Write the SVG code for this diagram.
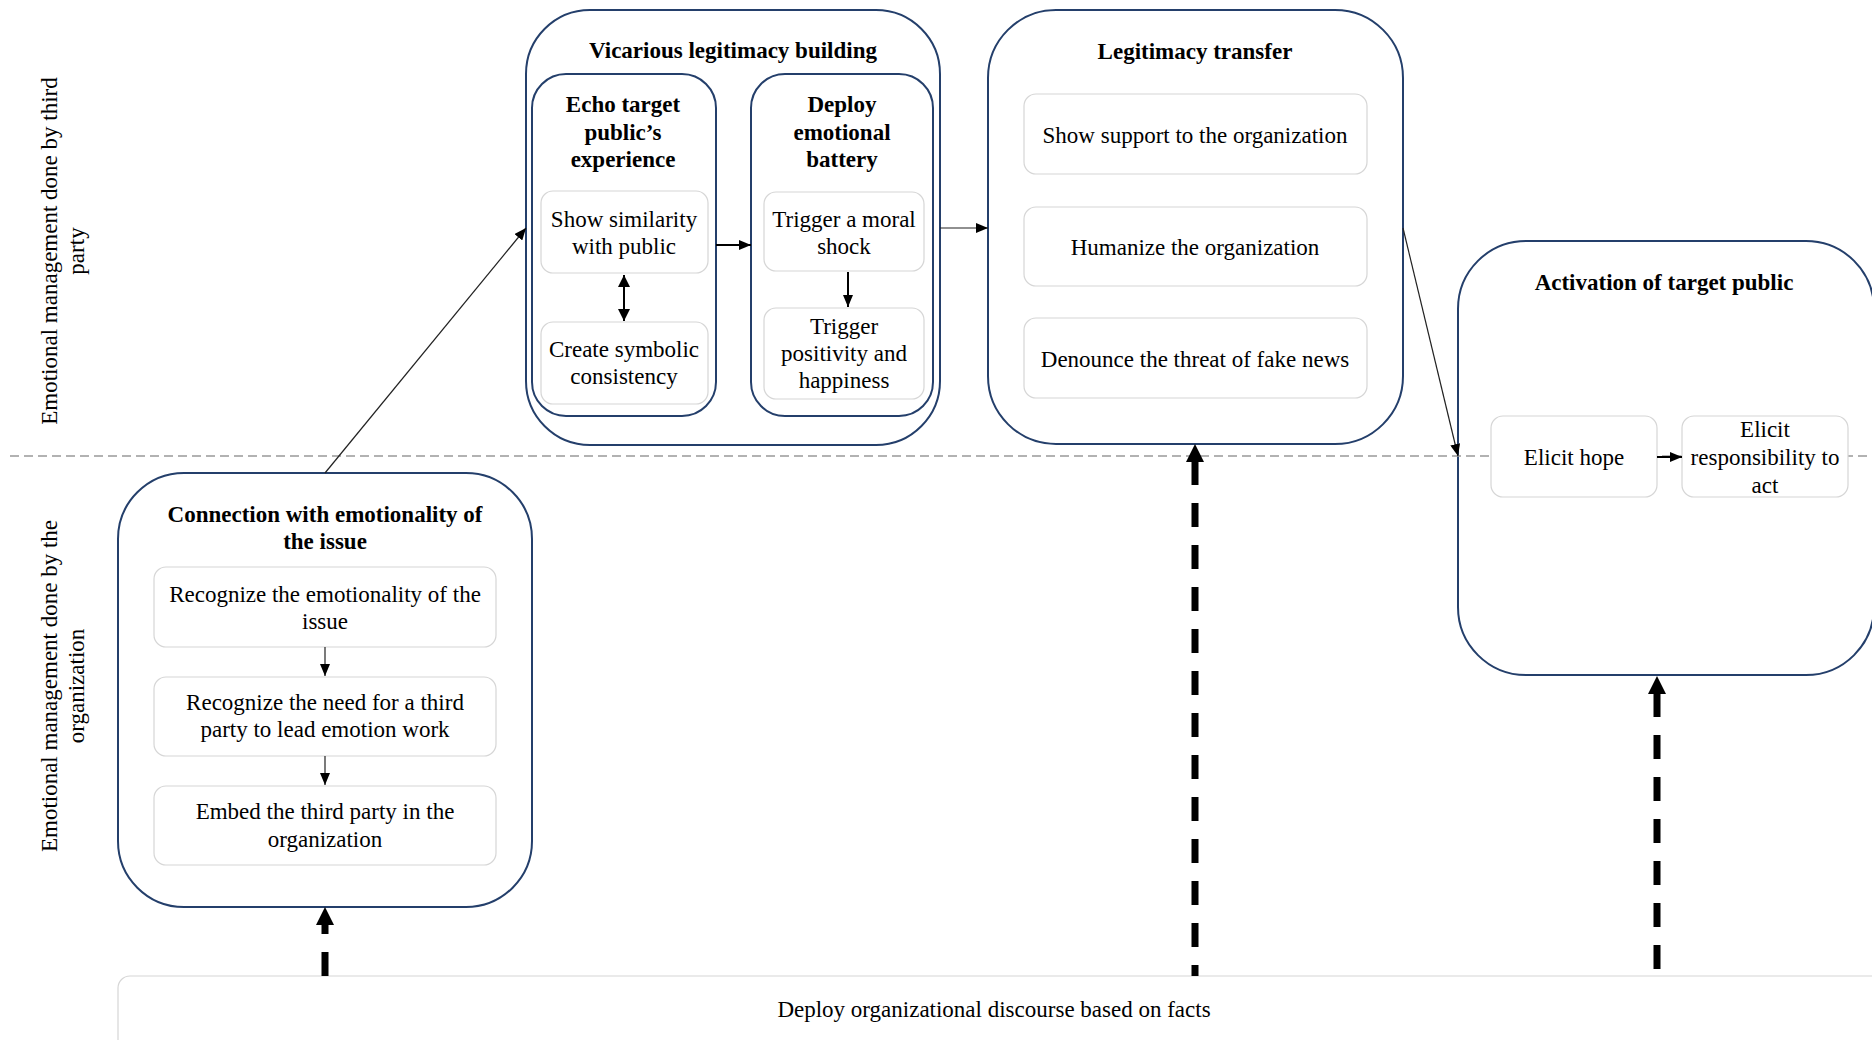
<svg xmlns="http://www.w3.org/2000/svg" width="1872" height="1040" viewBox="0 0 1872 1040">
<defs>
<style>
text { font-family: "Liberation Serif", "Times New Roman", serif; font-size: 23px; fill: #000; text-anchor: middle; }
.b { font-weight: bold; }
.big { fill: #fff; stroke: #243f6b; stroke-width: 2; }
.sm { fill: #fff; stroke: #d6d6d6; stroke-width: 1.2; }
.thin { stroke: #222; stroke-width: 1.2; fill: none; }
.med { stroke: #000; stroke-width: 2; fill: none; }
.thick { stroke: #000; stroke-width: 7; fill: none; stroke-dasharray: 24 18; }
.lane { stroke: #999; stroke-width: 1.5; stroke-dasharray: 9 5; fill: none; }
</style>
<marker id="ah" markerUnits="userSpaceOnUse" markerWidth="12" markerHeight="10" refX="12" refY="5" orient="auto"><path d="M0,0 L12,5 L0,10 z" fill="#000"/></marker>
<marker id="ah2" markerUnits="userSpaceOnUse" markerWidth="12" markerHeight="12" refX="12" refY="6" orient="auto-start-reverse"><path d="M0,0 L12,6 L0,12 z" fill="#000"/></marker>
</defs>
<rect x="0" y="0" width="1872" height="1040" fill="#fff"/>

<g id="lane-labels">
<text transform="translate(57,251) rotate(-90)">Emotional management done by third</text>
<text transform="translate(84,251) rotate(-90)">party</text>
<text transform="translate(57,686) rotate(-90)">Emotional management done by the</text>
<text transform="translate(84,686) rotate(-90)">organization</text>
</g>

<g id="vicarious">
<rect class="big" x="526" y="10" width="414" height="435" rx="64"/>
<text class="b" x="733" y="58">Vicarious legitimacy building</text>
</g>
<g id="echo">
<rect class="big" x="532" y="74" width="184" height="342" rx="34"/>
<text class="b"><tspan x="623" y="112">Echo target</tspan><tspan x="623" y="140">public’s</tspan><tspan x="623" y="167">experience</tspan></text>
</g>
<g id="deploy-battery">
<rect class="big" x="751" y="74" width="182" height="342" rx="34"/>
<text class="b"><tspan x="842" y="112">Deploy</tspan><tspan x="842" y="140">emotional</tspan><tspan x="842" y="167">battery</tspan></text>
</g>
<g id="legitimacy-transfer">
<rect class="big" x="988" y="10" width="415" height="434" rx="68"/>
<text class="b" x="1195" y="59">Legitimacy transfer</text>
</g>
<g id="activation">
<rect class="big" x="1458" y="241" width="416" height="434" rx="68"/>
<text class="b" x="1664" y="290">Activation of target public</text>
</g>
<g id="connection">
<rect class="big" x="118" y="473" width="414" height="434" rx="66"/>
<text class="b"><tspan x="325" y="522">Connection with emotionality of</tspan><tspan x="325" y="549">the issue</tspan></text>
</g>

<path class="lane" d="M10,456 H1872"/>

<g id="show-similarity">
<rect class="sm" x="541" y="191" width="167" height="82" rx="12"/>
<text><tspan x="624" y="227">Show similarity</tspan><tspan x="624" y="254">with public</tspan></text>
</g>
<g id="symbolic-consistency">
<rect class="sm" x="541" y="322" width="167" height="82" rx="12"/>
<text><tspan x="624" y="357">Create symbolic</tspan><tspan x="624" y="384">consistency</tspan></text>
</g>
<g id="moral-shock">
<rect class="sm" x="764" y="192" width="160" height="79" rx="12"/>
<text><tspan x="844" y="227">Trigger a moral</tspan><tspan x="844" y="254">shock</tspan></text>
</g>
<g id="positivity">
<rect class="sm" x="764" y="308" width="160" height="91" rx="12"/>
<text><tspan x="844" y="334">Trigger</tspan><tspan x="844" y="361">positivity and</tspan><tspan x="844" y="388">happiness</tspan></text>
</g>
<g id="show-support">
<rect class="sm" x="1024" y="94" width="343" height="80" rx="12"/>
<text x="1195" y="143">Show support to the organization</text>
</g>
<g id="humanize">
<rect class="sm" x="1024" y="207" width="343" height="79" rx="12"/>
<text x="1195" y="255">Humanize the organization</text>
</g>
<g id="denounce">
<rect class="sm" x="1024" y="318" width="343" height="80" rx="12"/>
<text x="1195" y="367">Denounce the threat of fake news</text>
</g>
<g id="elicit-hope">
<rect class="sm" x="1491" y="416" width="166" height="81" rx="12"/>
<text x="1574" y="465">Elicit hope</text>
</g>
<g id="elicit-responsibility">
<rect class="sm" x="1682" y="416" width="166" height="81" rx="12"/>
<text><tspan x="1765" y="437">Elicit</tspan><tspan x="1765" y="465">responsibility to</tspan><tspan x="1765" y="493">act</tspan></text>
</g>
<g id="recognize-emotionality">
<rect class="sm" x="154" y="567" width="342" height="80" rx="12"/>
<text><tspan x="325" y="602">Recognize the emotionality of the</tspan><tspan x="325" y="629">issue</tspan></text>
</g>
<g id="recognize-need">
<rect class="sm" x="154" y="677" width="342" height="79" rx="12"/>
<text><tspan x="325" y="710">Recognize the need for a third</tspan><tspan x="325" y="737">party to lead emotion work</tspan></text>
</g>
<g id="embed">
<rect class="sm" x="154" y="786" width="342" height="79" rx="12"/>
<text><tspan x="325" y="819">Embed the third party in the</tspan><tspan x="325" y="847">organization</tspan></text>
</g>
<g id="discourse">
<rect class="sm" x="118" y="976" width="1780" height="120" rx="12"/>
<text x="994" y="1017">Deploy organizational discourse based on facts</text>
</g>

<g id="connectors">
<path class="thin" d="M325,473 L526,228" marker-end="url(#ah)"/>
<path class="thin" d="M940,228 H988" marker-end="url(#ah)"/>
<path class="thin" d="M1403,228 L1458,456" marker-end="url(#ah)"/>
<path class="med" d="M716,245 H751" marker-end="url(#ah)"/>
<path class="med" d="M624,275 V321" marker-start="url(#ah2)" marker-end="url(#ah2)"/>
<path class="med" d="M848,272 V307" marker-end="url(#ah)"/>
<path class="thin" d="M325,647 V676" marker-end="url(#ah)"/>
<path class="thin" d="M325,756 V785" marker-end="url(#ah)"/>
<path class="med" d="M1657,457 H1682" marker-end="url(#ah)"/>
<path class="thick" d="M325,976 V923"/>
<polygon points="325,907 316,925 334,925" fill="#000"/>
<path class="thick" d="M1195,461 V976"/>
<polygon points="1195,444 1186,462 1204,462" fill="#000"/>
<path class="thick" d="M1657,693 V976"/>
<polygon points="1657,676 1648,694 1666,694" fill="#000"/>
</g>
</svg>
